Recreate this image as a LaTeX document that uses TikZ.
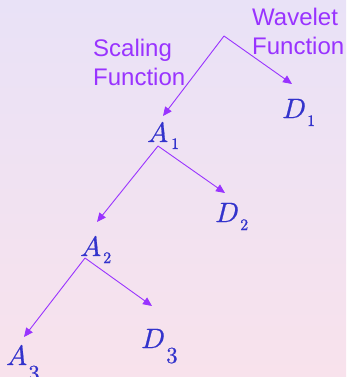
\documentclass[tikz,border=0pt]{standalone}
\usepackage{fontspec}
\setsansfont{Liberation Sans}
\newfontfamily\symfont[FakeBold=0.7]{Latin Modern Math}
\usetikzlibrary{arrows.meta}
\definecolor{arrowpurple}{RGB}{153,51,255}
\definecolor{mathblue}{RGB}{51,51,204}
\definecolor{bgtop}{RGB}{233,226,247}
\definecolor{bgbot}{RGB}{248,226,236}
\tikzset{
  conn/.style={draw=arrowpurple, line width=0.9pt, -{Triangle[length=9pt,width=8pt]}},
  lbl/.style={anchor=base west, inner sep=0pt, text=arrowpurple, align=left,
    font=\sffamily\fontsize{24}{29.5}\selectfont},
  sym/.style={anchor=base west, inner sep=0pt, text=mathblue, font=\symfont\fontsize{28}{28}\selectfont},
  subs/.style={anchor=base west, inner sep=0pt, text=mathblue, font=\symfont\fontsize{16}{16}\selectfont},
  subb/.style={anchor=base west, inner sep=0pt, text=mathblue, font=\symfont\fontsize{23}{23}\selectfont}
}
\begin{document}
\begin{tikzpicture}[x=1pt,y=-1pt]
\shade[top color=bgtop, bottom color=bgbot] (0,0) rectangle (346,377);
\useasboundingbox (0,0) rectangle (346,377);
% labels
\node[lbl] (scal) at (93,86) {Scaling\\Function};
\node[lbl] (wave) at (252,55) {Wavelet\\Function};
% symbols
\node[sym] (D1) at (282,118) {𝐷};
\node[subs] (D1s) at (307,126) {1};
\node[sym] (A1) at (147,142) {𝐴};
\node[subs] (A1s) at (171,149) {1};
\node[sym] (D2) at (215,222) {𝐷};
\node[subs] (D2s) at (240,230) {2};
\node[sym] (A2) at (80,256) {𝐴};
\node[subs] (A2s) at (103,263) {2};
\node[sym] (D3) at (141,348) {𝐷};
\node[subb] (D3s) at (166,363) {3};
\node[sym] (A3) at (6,365) {𝐴};
\node[subb] (A3s) at (28,381) {3};
% branch points and arrow tips
\coordinate (r0) at (224,36);
\coordinate (r1) at (158,146);
\coordinate (r2) at (85,258);
\coordinate (tA1) at (163,116);
\coordinate (tD1) at (292,84);
\coordinate (tA2) at (97,222);
\coordinate (tD2) at (225,193);
\coordinate (tA3) at (24,337);
\coordinate (tD3) at (152,306);
\draw[conn] (r0) -- (tA1);
\draw[conn] (r0) -- (tD1);
\draw[conn] (r1) -- (tA2);
\draw[conn] (r1) -- (tD2);
\draw[conn] (r2) -- (tA3);
\draw[conn] (r2) -- (tD3);
\end{tikzpicture}
\end{document}
